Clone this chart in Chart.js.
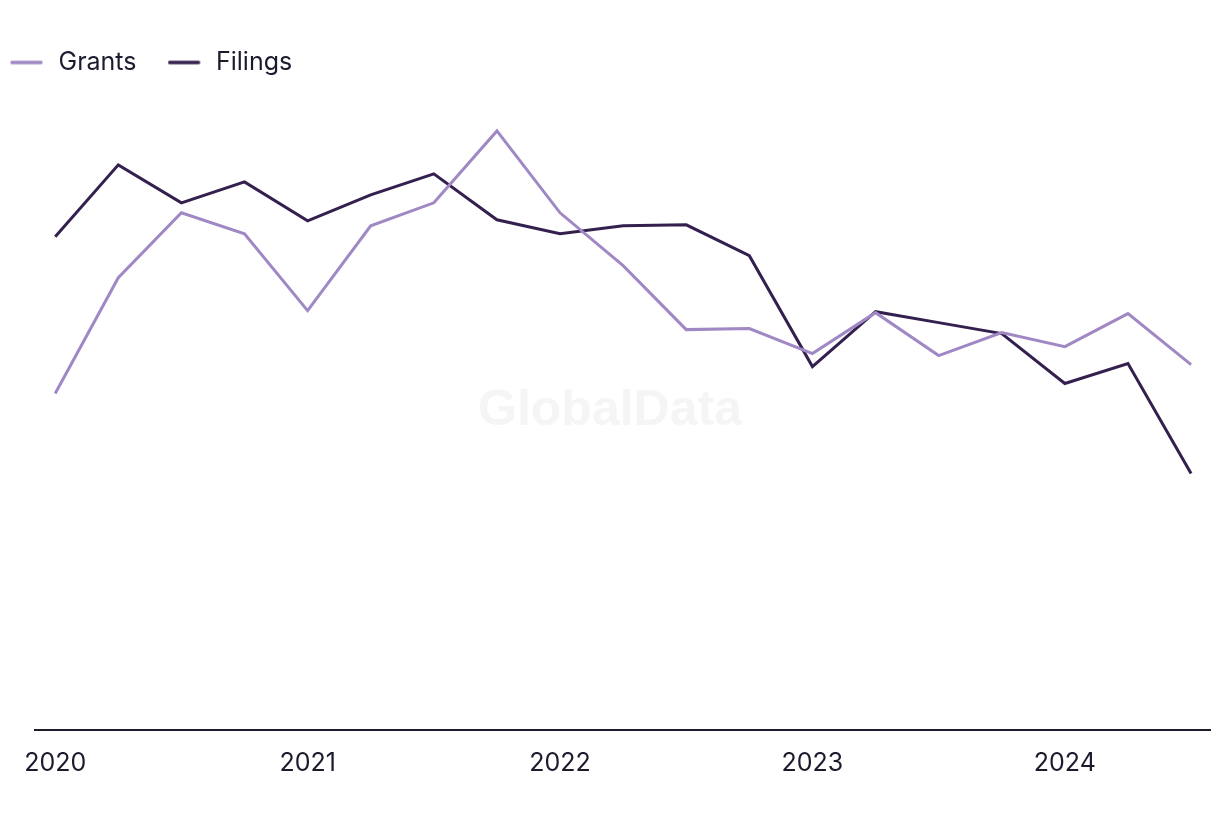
<!DOCTYPE html>
<html>
<head>
<meta charset="utf-8">
<script src="https://cdn.jsdelivr.net/npm/chart.js@4.4.1/dist/chart.umd.min.js"></script>
<style>
  html, body { margin: 0; padding: 0; background: #ffffff; }
  #wrap { width: 1220px; height: 820px; position: relative; }
</style>
</head>
<body>
<div id="wrap"><canvas id="c" width="1220" height="820"></canvas></div>
<script>
// Quarterly periods, 2020 Q1 .. 2024 Q3
const quarters = ['2020 Q1','2020 Q2','2020 Q3','2020 Q4','2021 Q1','2021 Q2','2021 Q3','2021 Q4',
                  '2022 Q1','2022 Q2','2022 Q3','2022 Q4','2023 Q1','2023 Q2','2023 Q3','2023 Q4',
                  '2024 Q1','2024 Q2','2024 Q3'];
// Year tick labels (shown at each Q1)
const yearLabels = ['2020','2021','2022','2023','2024'];
const yearTickIdx = [0, 4, 8, 12, 16];
// Series (relative units)
const grants  = [337, 453, 518, 497, 420, 505, 528, 600, 518, 465, 401, 402, 377, 418, 375, 398, 384, 417, 366];
const filings = [494, 566, 528, 549, 510, 536, 557, 511, 497, 505, 506, 475, 364, 419, 408, 397, 347, 367, 257];

const GRANTS_COLOR = '#9f88c4';
const FILINGS_COLOR = '#33204e';
const TEXT_COLOR = '#1b1b2e';
const FONT = 'Inter, "Noto Sans", sans-serif';

function legendLine(color) {
  const c = document.createElement('canvas');
  c.width = 36; c.height = 6;
  const g = c.getContext('2d');
  g.strokeStyle = color; g.lineWidth = 3.5; g.lineCap = 'round';
  g.beginPath(); g.moveTo(2, 3); g.lineTo(31, 3); g.stroke();
  return c;
}

const watermark = {
  id: 'watermark',
  beforeDatasetsDraw(chart) {
    const {ctx} = chart;
    ctx.save();
    ctx.font = 'bold 50px "Liberation Sans", Arial, sans-serif';
    ctx.fillStyle = '#f5f5f6';
    ctx.textAlign = 'center';
    ctx.textBaseline = 'middle';
    ctx.fillText('GlobalData', 610, 411);
    ctx.restore();
  }
};

const toPts = arr => arr.map((v, i) => ({x: i, y: v}));

new Chart(document.getElementById('c'), {
  type: 'line',
  data: {
    datasets: [
      { label: 'Grants', data: toPts(grants), borderColor: GRANTS_COLOR, backgroundColor: GRANTS_COLOR,
        borderWidth: 3, pointRadius: 0, tension: 0, borderJoinStyle: 'miter' },
      { label: 'Filings', data: toPts(filings), borderColor: FILINGS_COLOR, backgroundColor: FILINGS_COLOR,
        borderWidth: 3, pointRadius: 0, tension: 0, borderJoinStyle: 'miter' }
    ]
  },
  options: {
    responsive: false,
    animation: false,
    devicePixelRatio: 1,
    layout: { padding: { top: 19, left: -21, right: 10, bottom: 24 } },
    plugins: {
      tooltip: { enabled: false },
      legend: {
        position: 'top',
        align: 'start',
        labels: {
          usePointStyle: true,
          pointStyleWidth: 36,
          padding: 31,
          color: TEXT_COLOR,
          font: { family: FONT, size: 25 },
          generateLabels: chart => chart.data.datasets.map((ds, i) => ({
            text: ds.label,
            fillStyle: ds.borderColor,
            strokeStyle: ds.borderColor,
            lineWidth: 0,
            pointStyle: legendLine(ds.borderColor),
            fontColor: TEXT_COLOR,
            hidden: false,
            datasetIndex: i
          }))
        }
      }
    },
    scales: {
      x: {
        type: 'linear',
        min: -0.32,
        max: 18.3,
        grid: { display: false, drawTicks: false },
        border: { display: true, color: '#1c1c2c', width: 2 },
        afterBuildTicks: s => { s.ticks = yearTickIdx.map(v => ({value: v})); },
        ticks: {
          padding: 18,
          color: TEXT_COLOR,
          font: { family: FONT, size: 25 },
          maxRotation: 0,
          autoSkip: false,
          callback: v => yearLabels[yearTickIdx.indexOf(v)]
        }
      },
      y: {
        min: 0,
        max: 646,
        display: true,
        grid: { display: false, drawTicks: false },
        border: { display: false },
        ticks: { display: false },
        afterFit: s => { s.width = 56; }
      }
    }
  },
  plugins: [watermark]
});
</script>
</body>
</html>
